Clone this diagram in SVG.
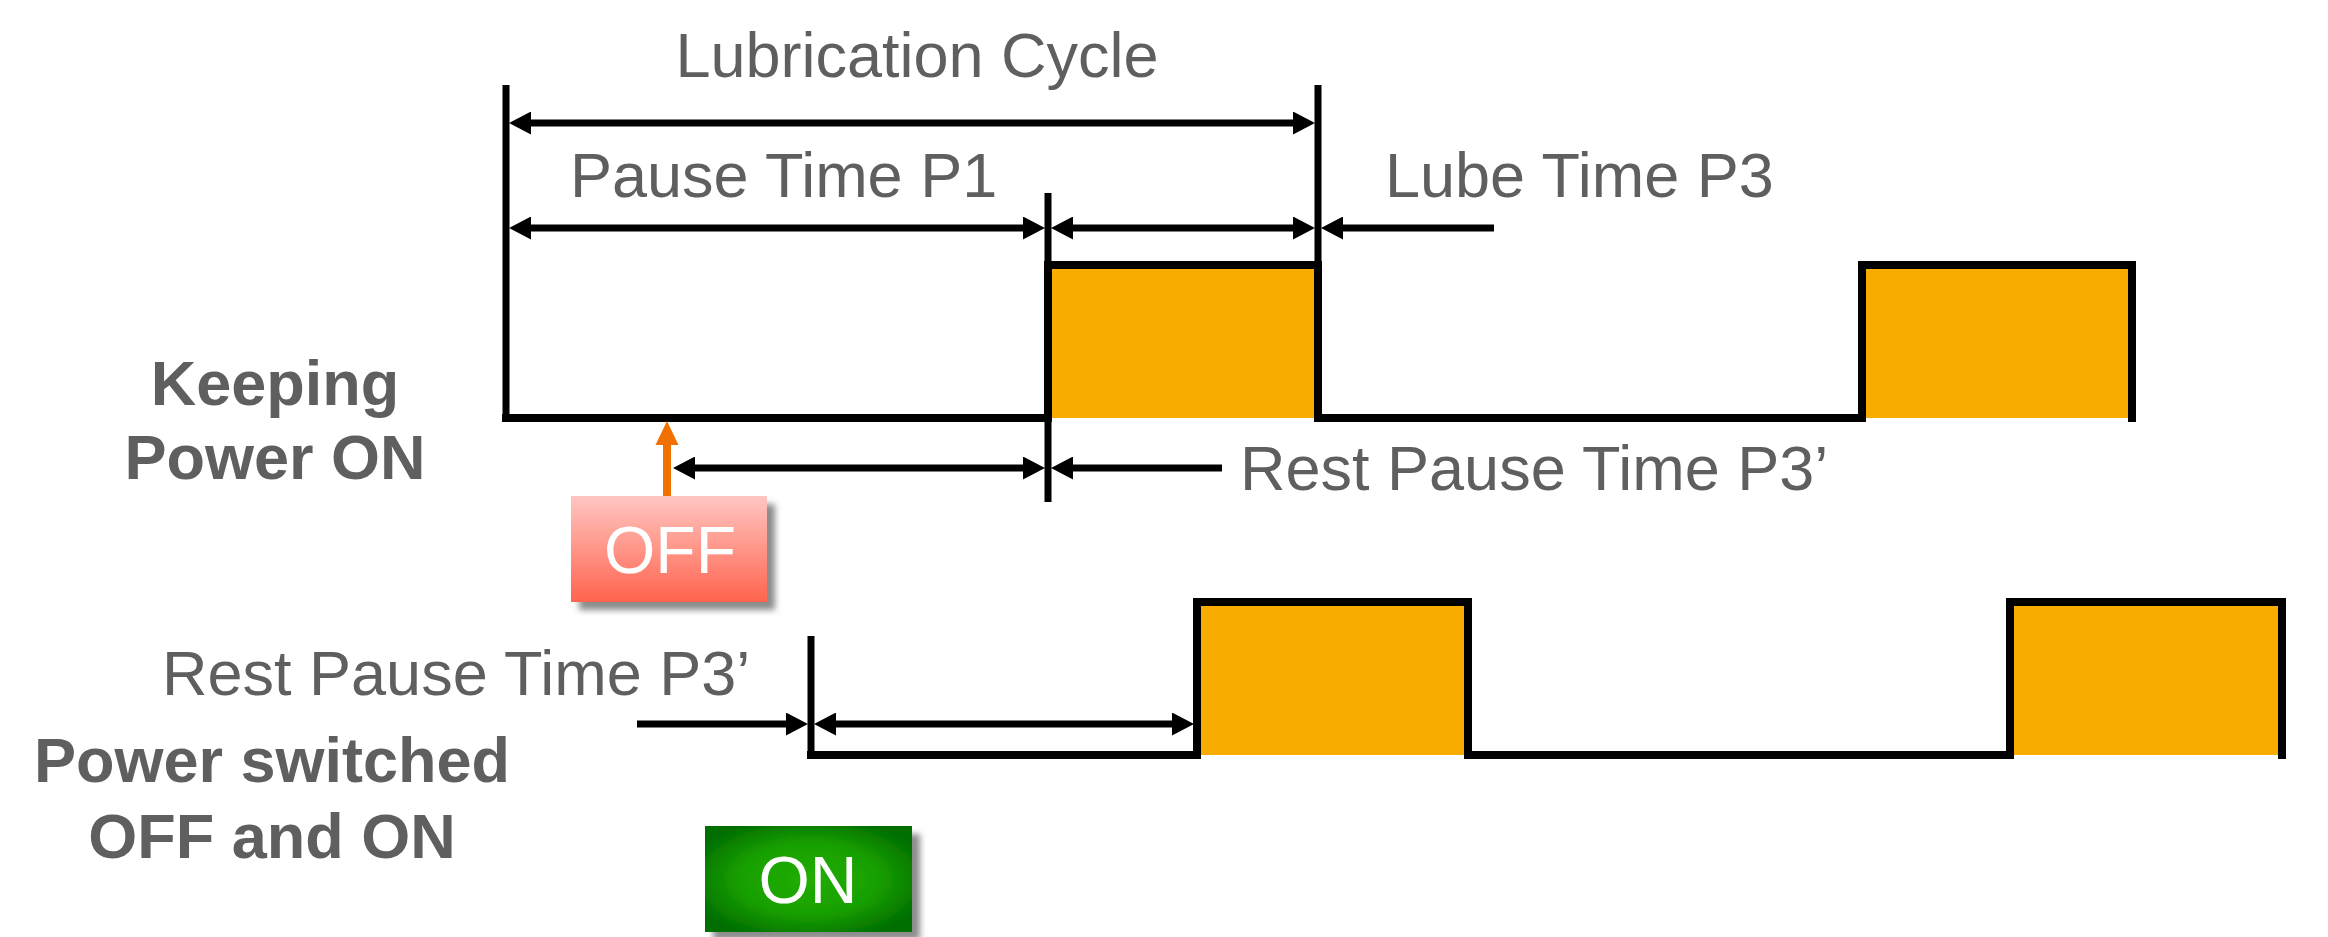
<svg xmlns="http://www.w3.org/2000/svg" width="2328" height="937" viewBox="0 0 2328 937">
<style>
.lbl{font-family:"Liberation Sans",Arial,sans-serif;font-size:63px;fill:#5F5F5F}
.bold{font-weight:bold}
.btn{font-family:"Liberation Sans",Arial,sans-serif;font-size:66px;fill:#FFFFFF;text-anchor:middle}
.dim{stroke:#000;stroke-width:7;fill:none}
.wave{stroke:#000;stroke-width:8;fill:none;stroke-linejoin:miter;stroke-linecap:square}
.pulse{fill:#F9AC00}
</style>
<defs>
<marker id="ah" viewBox="0 0 22 23" refX="12" refY="11.5" markerWidth="22" markerHeight="23" markerUnits="userSpaceOnUse" orient="auto-start-reverse">
<path d="M0,0 L22,11.5 L0,23 Z" fill="#000"/>
</marker>
<linearGradient id="gOff" x1="0" y1="0" x2="0" y2="1">
<stop offset="0" stop-color="#FFC6C2"/>
<stop offset="1" stop-color="#FF644E"/>
</linearGradient>
<radialGradient id="gOn" cx="0.5" cy="0.5" r="0.6">
<stop offset="0" stop-color="#22AD00"/>
<stop offset="0.55" stop-color="#18A000"/>
<stop offset="1" stop-color="#006E00"/>
</radialGradient>
<filter id="sh" x="-20%" y="-20%" width="150%" height="150%">
<feGaussianBlur in="SourceAlpha" stdDeviation="3"/>
<feOffset dx="8" dy="8" result="b"/>
<feFlood flood-color="#777" flood-opacity="0.85"/>
<feComposite in2="b" operator="in"/>
<feMerge><feMergeNode/><feMergeNode in="SourceGraphic"/></feMerge>
</filter>
</defs>

<g id="pulses-row1">
<rect class="pulse" x="1048" y="265" width="270" height="153"/>
<rect class="pulse" x="1862" y="265" width="270" height="153"/>
</g>
<g id="pulses-row2">
<rect class="pulse" x="1197" y="602" width="271" height="153"/>
<rect class="pulse" x="2010" y="602" width="272" height="153"/>
</g>

<g id="wave-row1">
<polyline class="wave" points="506,418 1048,418 1048,265 1318,265 1318,418 1862,418 1862,265 2132,265 2132,418" stroke-linecap="butt"/>
</g>
<g id="wave-row2">
<polyline class="wave" points="811,755 1197,755 1197,602 1468,602 1468,755 2010,755 2010,602 2282,602 2282,755" stroke-linecap="butt"/>
</g>

<g id="connectors">
<line class="dim" x1="506" y1="85" x2="506" y2="422"/>
<line class="dim" x1="1318" y1="85" x2="1318" y2="265"/>
<line class="dim" x1="1048" y1="193" x2="1048" y2="502"/>
<line class="dim" x1="811" y1="636" x2="811" y2="759"/>
<line class="dim" x1="519" y1="123" x2="1305" y2="123" marker-start="url(#ah)" marker-end="url(#ah)"/>
<line class="dim" x1="519" y1="228" x2="1035" y2="228" marker-start="url(#ah)" marker-end="url(#ah)"/>
<line class="dim" x1="1061" y1="228" x2="1305" y2="228" marker-start="url(#ah)" marker-end="url(#ah)"/>
<line class="dim" x1="1494" y1="228" x2="1331" y2="228" marker-end="url(#ah)"/>
<line class="dim" x1="683" y1="468" x2="1035" y2="468" marker-start="url(#ah)" marker-end="url(#ah)"/>
<line class="dim" x1="1222" y1="468" x2="1061" y2="468" marker-end="url(#ah)"/>
<line class="dim" x1="637" y1="724" x2="798" y2="724" marker-end="url(#ah)"/>
<line class="dim" x1="824" y1="724" x2="1184" y2="724" marker-start="url(#ah)" marker-end="url(#ah)"/>
<line x1="667" y1="502" x2="667" y2="440" stroke="#F07000" stroke-width="8"/>
<polygon points="667,421 655.5,445 678.5,445" fill="#F07000"/>
</g>

<g id="labels">
<text class="lbl" x="917" y="77" text-anchor="middle">Lubrication Cycle</text>
<text class="lbl" x="570" y="197">Pause Time P1</text>
<text class="lbl" x="1385" y="197">Lube Time P3</text>
<text class="lbl" x="1240" y="490">Rest Pause Time P3’</text>
<text class="lbl" x="162" y="695">Rest Pause Time P3’</text>
<text class="lbl bold" x="275" y="405" text-anchor="middle">Keeping</text>
<text class="lbl bold" x="275" y="479" text-anchor="middle">Power ON</text>
<text class="lbl bold" x="272" y="782" text-anchor="middle">Power switched</text>
<text class="lbl bold" x="272" y="858" text-anchor="middle">OFF and ON</text>
</g>

<g id="off-button">
<rect x="571" y="496" width="196" height="106" fill="url(#gOff)" filter="url(#sh)"/>
<text class="btn" x="670" y="573">OFF</text>
</g>
<g id="on-button">
<rect x="705" y="826" width="207" height="106" fill="url(#gOn)" filter="url(#sh)"/>
<text class="btn" x="808" y="903">ON</text>
</g>
</svg>
